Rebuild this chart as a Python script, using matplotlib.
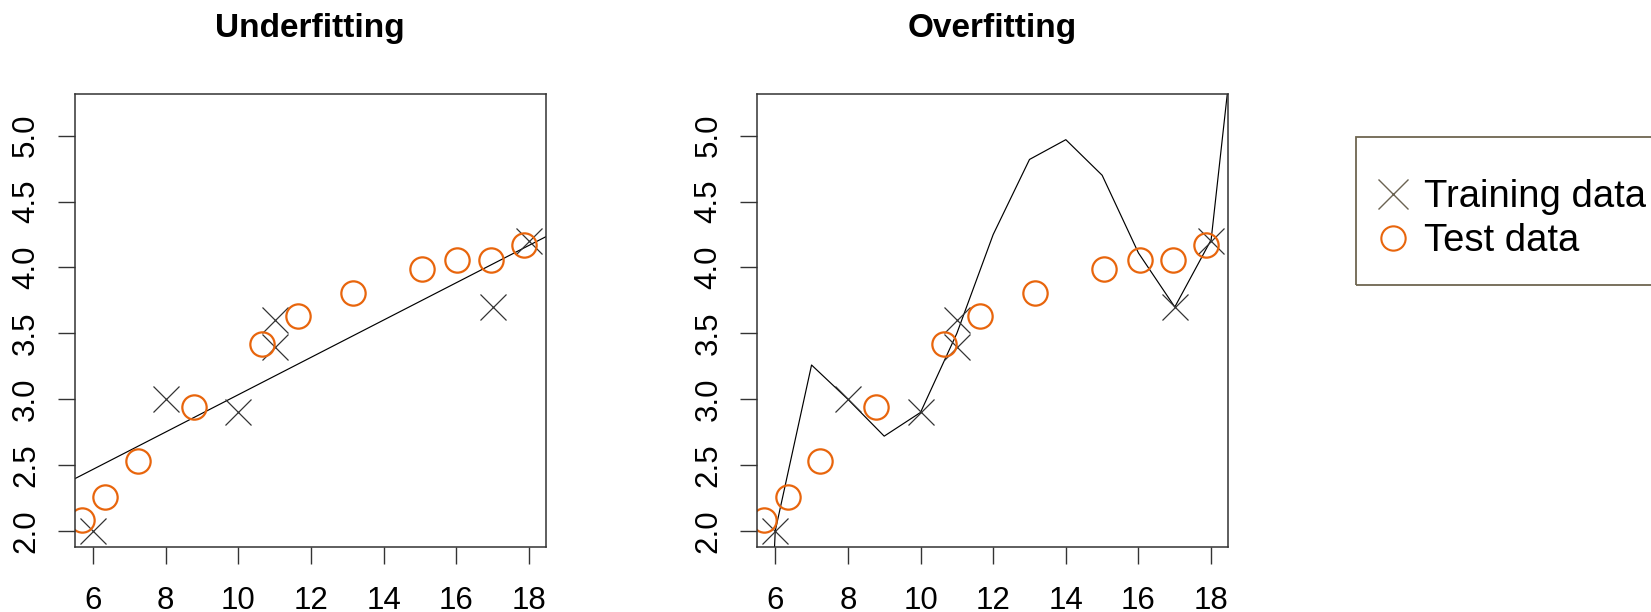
import numpy as np
import matplotlib.pyplot as plt
from matplotlib.lines import Line2D
from matplotlib.patches import Rectangle

plt.rcParams['font.family'] = ['Liberation Sans', 'DejaVu Sans']

# training points (crosses)
train_x = [6, 8, 10, 11, 11, 17, 18]
train_y = [2.0, 3.0, 2.9, 3.6, 3.4, 3.7, 4.2]

# test points (orange circles)
test_x = [5.70, 6.34, 7.23, 8.78, 10.65, 11.65, 13.16, 15.06, 16.03, 16.95, 17.87]
test_y = [2.08, 2.26, 2.53, 2.94, 3.42, 3.63, 3.81, 3.99, 4.06, 4.06, 4.17]

# over-fitted curve, read at integer x
overfit_x = [5, 6, 7, 8, 9, 10, 11, 12, 13, 14, 15, 16, 17, 18, 19]
overfit_y = [-4.3, 2.0, 3.26, 3.0, 2.72, 2.90, 3.5, 4.25, 4.82, 4.97, 4.70, 4.11, 3.70, 4.21, 6.7]

panel_titles = ["Underfitting", "Overfitting"]
legend_labels = ["Training data", "Test data"]
x_ticks = [6, 8, 10, 12, 14, 16, 18]
y_ticks = [2.0, 2.5, 3.0, 3.5, 4.0, 4.5, 5.0]

ORANGE = "#E8650C"
CROSS = "#333333"
LEG_GREY = "#6B6352"

W, H = 1651, 612
fig = plt.figure(figsize=(W / 100, H / 100), dpi=100)

lefts = [74.5, 756.7]
axes = [fig.add_axes([l / W, (H - 546.7) / H, 471.5 / W, 453 / H]) for l in lefts]

for i, ax in enumerate(axes):
    ax.set_xlim(5.49, 18.47)
    ax.set_ylim(1.881, 5.319)

    if i == 0:
        slope, intercept = np.polyfit(train_x, train_y, 1)
        ax.axline((0, intercept), slope=slope, color="black", lw=0.85)
    else:
        ax.plot(overfit_x, overfit_y, color="black", lw=0.85)

    ax.plot(train_x, train_y, ls="none", marker="x", ms=19, mew=0.9, color=CROSS)
    ax.plot(test_x, test_y, ls="none", marker="o", ms=17.5, mew=1.6,
            mfc="none", mec=ORANGE)

    ax.set_xticks(x_ticks)
    ax.set_yticks(y_ticks)
    ax.set_yticklabels([f"{v:.1f}" for v in y_ticks])
    for s in ax.spines.values():
        s.set_color("#333333")
        s.set_linewidth(1.1)
    ax.tick_params(direction="out", length=12, width=1.0, color="#333333",
                   labelsize=22.5)
    ax.tick_params(axis="x", pad=16)
    ax.tick_params(axis="y", pad=12, labelrotation=90)
    for lab in ax.get_yticklabels():
        lab.set_va("center")

    ax.set_title(panel_titles[i], fontsize=24, fontweight="bold", pad=41)

handles = [
    Line2D([], [], ls="none", marker="x", ms=22, mew=1.0, color=LEG_GREY),
    Line2D([], [], ls="none", marker="o", ms=17.5, mew=1.5, mfc="none", mec=ORANGE),
]
fig.legend(handles, legend_labels, loc="upper left",
           bbox_to_anchor=(1393 / W, 1 - 179 / H), frameon=False, fontsize=27.5,
           borderpad=0, borderaxespad=0, handlelength=0, handletextpad=0.8,
           labelspacing=0.22)
fig.add_artist(Rectangle((1355.7 / W, 1 - 285 / H), (1700 - 1355.7) / W, (285 - 136.7) / H,
                         transform=fig.transFigure, fill=False, ec="#6E6650", lw=1.3))

fig.savefig("out.png", dpi=100)
